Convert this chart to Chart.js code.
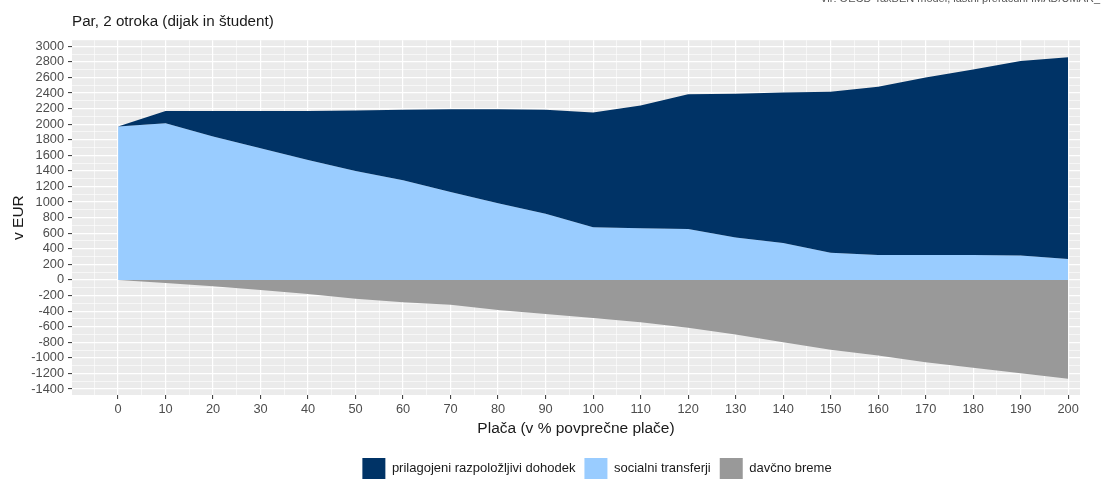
<!DOCTYPE html>
<html>
<head>
<meta charset="utf-8">
<script src="https://cdn.jsdelivr.net/npm/chart.js@4/dist/chart.umd.min.js"></script>
<style>
  html, body { margin: 0; padding: 0; background: #fff; }
  #wrap { width: 1106px; height: 479px; }
</style>
</head>
<body>
<div id="wrap"><canvas id="myChart" width="1106" height="479"></canvas></div>
<script>
// podatki (odčitani s slike)
var placa = [0, 10, 20, 30, 40, 50, 60, 70, 80, 90, 100, 110, 120, 130, 140, 150, 160, 170, 180, 190, 200];
var dohodek = [1970, 2170, 2170, 2170, 2170, 2175, 2185, 2190, 2190, 2185, 2150, 2240, 2385, 2390, 2405, 2415, 2480, 2600, 2700, 2810, 2860];
var transferji = [1970, 2013, 1840, 1690, 1540, 1400, 1280, 1130, 985, 850, 675, 662, 654, 546, 474, 350, 320, 320, 320, 315, 270];
var breme = [0, -38, -82, -130, -180, -240, -285, -318, -385, -436, -487, -543, -615, -700, -800, -897, -970, -1056, -1128, -1197, -1270];

var xTicks = [];
for (let v = -5; v <= 200; v += 5) xTicks.push(v);
var yTicks = [];
for (let v = -1400; v <= 3000; v += 100) yTicks.push(v);

function pts(arr) {
    return placa.map(function (p, i) { return { x: p, y: arr[i] }; });
}

var bgPlugin = {
    id: "bg",
    beforeDraw: function (chart) {
        var a = chart.chartArea, ctx = chart.ctx;
        ctx.save();
        ctx.fillStyle = "#EBEBEB";
        ctx.fillRect(a.left, a.top, a.right - a.left, a.bottom - a.top);
        ctx.restore();
    },
    afterLayout: function (chart) {
        // legenda je v izvirniku bolj desno
        chart.legend.left += 57;
        chart.legend.right += 57;
    },
    afterDraw: function (chart) {
        var ctx = chart.ctx;
        ctx.save();
        ctx.font = "11px 'Liberation Sans', Arial, sans-serif";
        ctx.fillStyle = "#555";
        ctx.textAlign = "right";
        ctx.textBaseline = "alphabetic";
        ctx.fillText("Vir: OECD TaxBEN model, lastni preračuni IMAD/UMAR_", 1100, 2);
        ctx.restore();
    }
};

function isMajorX(v) { return v % 10 === 0 && v >= 0; }
function isMajorY(v) { return v % 200 === 0; }

var ctx = document.getElementById("myChart");
var chart = new Chart(ctx, {
    type: "line",
    data: {
        datasets: [{
            label: "prilagojeni razpoložljivi dohodek",
            data: pts(dohodek),
            backgroundColor: "#003366",
            borderColor: "#003366",
            borderWidth: 0,
            fill: 1
        }, {
            label: "socialni transferji",
            data: pts(transferji),
            backgroundColor: "#99CCFF",
            borderColor: "#99CCFF",
            borderWidth: 0,
            fill: "origin"
        }, {
            label: "davčno breme",
            data: pts(breme),
            backgroundColor: "#999999",
            borderColor: "#999999",
            borderWidth: 0,
            fill: "origin"
        }]
    },
    plugins: [bgPlugin],
    options: {
        responsive: false,
        animation: false,
        layout: { padding: { top: 0, right: 26, bottom: 0, left: 0 } },
        elements: { point: { radius: 0 }, line: { tension: 0 } },
        font: { family: "'Liberation Sans', Arial, sans-serif" },
        plugins: {
            tooltip: { enabled: false },
            title: {
                display: true,
                text: "Par, 2 otroka (dijak in študent)",
                align: "start",
                fullSize: false,
                color: "#1a1a1a",
                font: { size: 15.2, weight: "normal" },
                padding: { top: 13, bottom: 9 }
            },
            legend: {
                position: "bottom",
                maxHeight: 30,
                labels: {
                    boxWidth: 23,
                    boxHeight: 21,
                    padding: 9,
                    color: "#1a1a1a",
                    font: { size: 13 }
                }
            }
        },
        scales: {
            x: {
                type: "linear",
                min: -9.7,
                max: 202.5,
                afterBuildTicks: function (s) { s.ticks = xTicks.map(function (v) { return { value: v }; }); },
                afterFit: function (s) { s.height = 54; },
                border: { display: false },
                grid: {
                    color: "#ffffff",
                    lineWidth: function (c) { return isMajorX(c.tick.value) ? 1.2 : 0.6; },
                    tickColor: function (c) { return isMajorX(c.tick.value) ? "#333333" : "rgba(0,0,0,0)"; },
                    tickLength: 4,
                    tickWidth: 1
                },
                ticks: {
                    autoSkip: false,
                    maxRotation: 0,
                    padding: 3,
                    color: "#4D4D4D",
                    font: { size: 12.8 },
                    callback: function (v) { return isMajorX(v) ? String(v) : ""; }
                },
                title: {
                    display: true,
                    text: "Plača (v % povprečne plače)",
                    color: "#1a1a1a",
                    font: { size: 15.5 },
                    padding: { top: 0, bottom: 11 }
                }
            },
            y: {
                min: -1477,
                max: 3077,
                afterBuildTicks: function (s) { s.ticks = yTicks.map(function (v) { return { value: v }; }); },
                afterFit: function (s) { s.width = 72; },
                border: { display: false },
                grid: {
                    color: "#ffffff",
                    lineWidth: function (c) { return isMajorY(c.tick.value) ? 1.2 : 0.6; },
                    tickColor: function (c) { return isMajorY(c.tick.value) ? "#333333" : "rgba(0,0,0,0)"; },
                    tickLength: 4,
                    tickWidth: 1
                },
                ticks: {
                    autoSkip: false,
                    padding: 4,
                    color: "#4D4D4D",
                    font: { size: 12.8 },
                    callback: function (v) { return isMajorY(v) ? String(v) : ""; }
                },
                title: {
                    display: true,
                    text: "v EUR",
                    color: "#1a1a1a",
                    font: { size: 15.5 },
                    padding: { top: 9, bottom: 0 }
                }
            }
        }
    }
});
</script>
</body>
</html>
